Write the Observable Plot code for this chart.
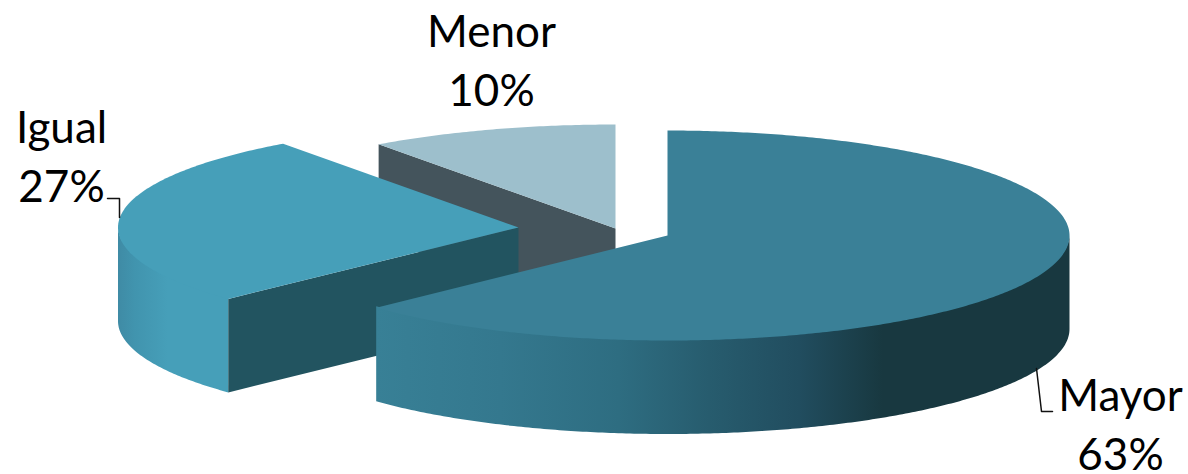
<!DOCTYPE html>
<html>
<head>
<meta charset="utf-8">
<script src="https://cdn.jsdelivr.net/npm/d3@7"></script>
<script src="https://cdn.jsdelivr.net/npm/@observablehq/plot@0.6"></script>
<style>html,body{margin:0;padding:0;background:#fff;overflow:hidden}svg{display:block}</style>
</head>
<body>
<div id="chart"></div>
<script>
// Data
const categories = ["Mayor", "Igual", "Menor"];
const shares = [62.9, 27.1, 10];
const shareLabels = ["63%", "27%", "10%"];

// Layout of the exploded 3D pie, in chart units
const centerX = [667, 518, 615];
const centerY = [235, 227, 228];
const radiusX = [402, 400.5, 403];
const radiusY = [105, 103.6, 104];
const depth = 93.5;
const labelX = [1120, 61, 491];
const labelY = [421, 153, 57];
const leaderMayor = [[1036, 368], [1041, 411], [1052, 411]];
const leaderIgual = [[107, 198], [119, 198], [119, 217]];

// Styles
const topColors = ["#3a8097", "#469fb9", "#9dbfcc"];
const cutColors = [null, "#225460", "#44545c"];
const wallColors = ["url(#wallMayor)", "url(#wallIgual)", null];

const total = d3.sum(shares);
const stops = d3.cumsum(shares, d => d / total * 2 * Math.PI);
const starts = [0, ...stops];

function rim(i, a0, a1, drop = 0) {
  const n = Math.max(2, Math.ceil(Math.abs(a1 - a0) / 0.01));
  return d3.range(n + 1).map(k => {
    const a = a0 + (a1 - a0) * k / n;
    return [centerX[i] + radiusX[i] * Math.sin(a), centerY[i] - radiusY[i] * Math.cos(a) + drop];
  });
}
const face = (pts, fill) => Plot.line(pts, {x: d => d[0], y: d => d[1], fill, stroke: "none", curve: "linear"});

function slice(i) {
  const a0 = starts[i], a1 = stops[i];
  const apex = [centerX[i], centerY[i]];
  const marks = [];
  // outer wall: only the part facing the viewer; its upper edge tucks under the top surface
  const v0 = Math.max(a0, Math.PI / 2), v1 = Math.min(a1, 3 * Math.PI / 2);
  if (wallColors[i] && v1 > v0) {
    marks.push(face([...rim(i, v0, v1, -1.5), ...rim(i, v1, v0, depth)], wallColors[i]));
  }
  // inner cut wall on the side that faces the viewer
  if (cutColors[i]) {
    const edge = rim(i, a0, a0)[0];
    marks.push(face([apex, edge, [edge[0], edge[1] + depth], [apex[0], apex[1] + depth]], cutColors[i]));
  }
  // top surface
  marks.push(face([apex, ...rim(i, a0, a1)], topColors[i]));
  return marks;
}

function gradient(id, list) {
  return `<linearGradient id="${id}" x1="0" y1="0" x2="1" y2="0">` +
    list.map(([o, c]) => `<stop offset="${o}" stop-color="${c}"/>`).join("") + `</linearGradient>`;
}
const defs = () => {
  const g = document.createElementNS("http://www.w3.org/2000/svg", "defs");
  g.innerHTML =
    gradient("wallMayor", [[0, "#388096"], [0.18, "#34788e"], [0.35, "#2e6d81"], [0.48, "#275c6e"], [0.61, "#214d5f"], [0.73, "#183840"], [1, "#183840"]]) +
    gradient("wallIgual", [[0, "#3f8ba5"], [0.15, "#4194ae"], [0.45, "#469fb9"], [1, "#469fb9"]]);
  return g;
};

const labels = categories.map((c, i) => ({text: `${c}\n${shareLabels[i]}`, x: labelX[i], y: labelY[i]}));

const chart = Plot.plot({
  width: 1188, height: 474,
  margin: 0,
  style: {background: "#fff"},
  x: {domain: [0, 1188], range: [0, 1188], axis: null},
  y: {domain: [0, 474], range: [0, 474], axis: null},
  marks: [
    defs,
    ...slice(2),
    ...slice(1),
    ...slice(0),
    Plot.line(leaderMayor, {x: d => d[0], y: d => d[1], stroke: "#111", strokeWidth: 1.5, curve: "linear"}),
    Plot.line(leaderIgual, {x: d => d[0], y: d => d[1], stroke: "#111", strokeWidth: 1.5, curve: "linear"}),
    Plot.text(labels, {x: "x", y: "y", text: "text", fontFamily: "Lato", fontSize: 44, lineHeight: 1.34, fill: "#000", textAnchor: "middle"})
  ]
});
document.getElementById("chart").append(chart);
</script>
</body>
</html>
